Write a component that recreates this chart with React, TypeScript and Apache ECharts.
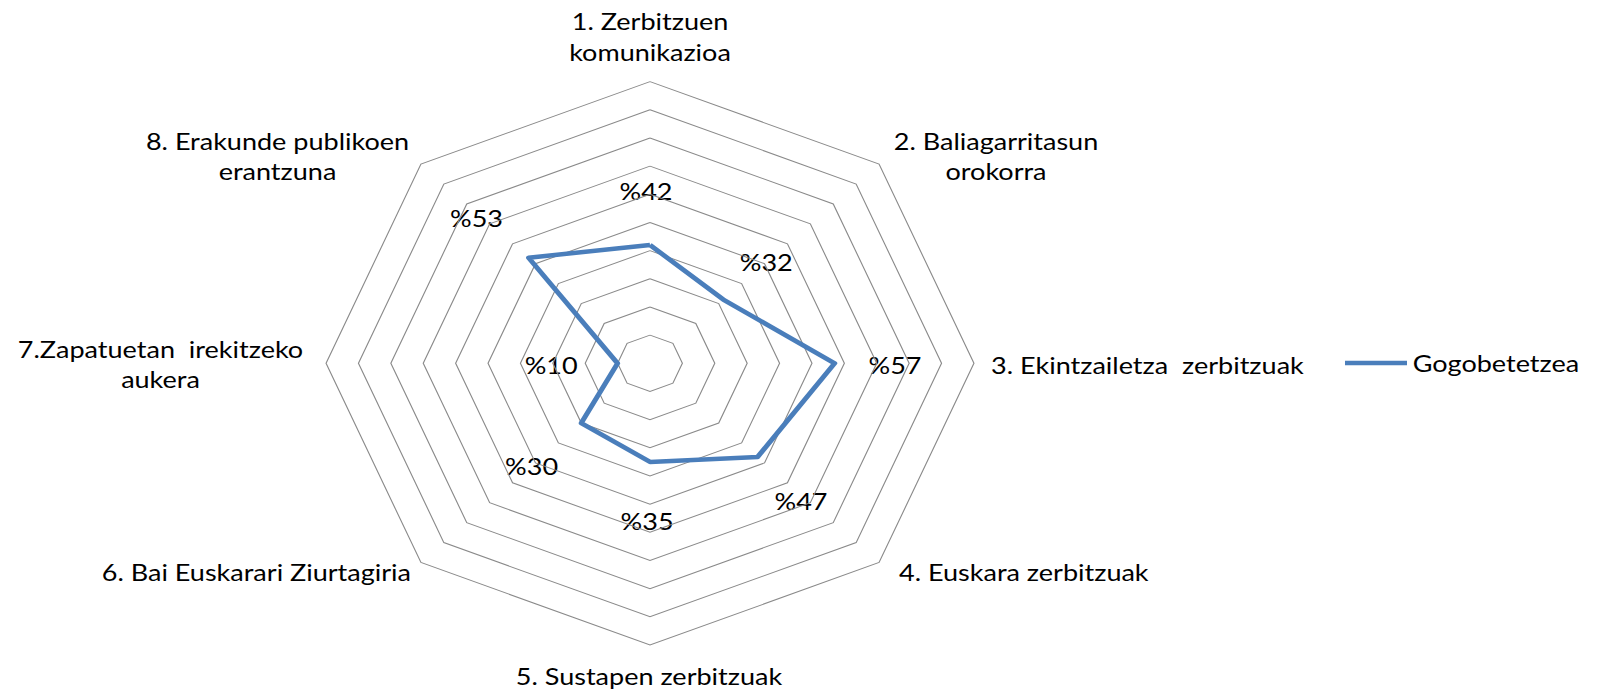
import React, { useEffect, useRef } from "react";
import * as echarts from "echarts";

// ---- data ----
const categories: string[] = [
  "1. Zerbitzuen\nkomunikazioa",
  "2. Baliagarritasun\norokorra",
  "3. Ekintzailetza  zerbitzuak",
  "4. Euskara zerbitzuak",
  "5. Sustapen zerbitzuak",
  "6. Bai Euskarari Ziurtagiria",
  "7.Zapatuetan  irekitzeko\naukera",
  "8. Erakunde publikoen\nerantzuna",
];
const values: number[] = [42, 32, 57, 47, 35, 30, 10, 53];
const seriesName = "Gogobetetzea";
const labelPrefix = "%";
const axisMin = 0;
const axisMax = 100;
const axisSplits = 10;

// ---- layout (full-page px; the chart is drawn narrower and stretched horizontally) ----
const SX = 1.15;
const W = 1602;
const H = 690;
const FONT = "Lato";
const FS = 23.5;
const CENTER = [650, 363.3];
const RADIUS = 281.7;

// category label anchors: [x, y, align]
const catPos: [number, number, string][] = [
  [650, 36, "center"],
  [996, 155.5, "center"],
  [991, 365, "left"],
  [899, 572, "left"],
  [649, 676, "center"],
  [411, 572, "right"],
  [160.5, 363.5, "center"],
  [277.5, 155.5, "center"],
];
// value label centres
const valPos: [number, number][] = [
  [646, 190.6],
  [766.3, 261.7],
  [895, 364.5],
  [801, 500.8],
  [647.1, 520.6],
  [531.6, 465.3],
  [551.2, 364.5],
  [476.5, 218.2],
];

// ECharts radar runs counter-clockwise; the reference runs clockwise from the top
const order = [0, 7, 6, 5, 4, 3, 2, 1];

export default function App() {
  const ref = useRef<HTMLDivElement>(null);

  useEffect(() => {
    if (!ref.current) return;
    const chart = echarts.init(ref.current, undefined, { renderer: "svg" });
    const color = "#4a7ebb";
    const textStyleBase = { fontFamily: FONT, fontSize: FS, fill: "#000" };

    const catTexts = categories.map((c, i) => ({
      type: "text",
      x: catPos[i][0] / SX,
      y: catPos[i][1],
      style: {
        ...textStyleBase,
        text: c,
        align: catPos[i][2],
        verticalAlign: "middle",
        lineHeight: 30.5,
      },
    }));
    const valTexts = values.map((v, i) => ({
      type: "text",
      x: valPos[i][0] / SX,
      y: valPos[i][1],
      style: {
        ...textStyleBase,
        text: labelPrefix + v,
        align: "center",
        verticalAlign: "middle",
      },
    }));

    chart.setOption({
      animation: false,
      backgroundColor: "#ffffff",
      radar: {
        center: [CENTER[0] / SX, CENTER[1]],
        radius: RADIUS,
        startAngle: 90,
        splitNumber: axisSplits,
        shape: "polygon",
        indicator: order.map((i) => ({
          name: categories[i],
          min: axisMin,
          max: axisMax,
        })),
        axisName: { show: false },
        axisLine: { show: false },
        axisTick: { show: false },
        axisLabel: { show: false },
        splitLine: { lineStyle: { color: "#8a8a8a", width: 1 } },
        splitArea: { show: false },
      },
      legend: {
        data: [seriesName],
        left: 1345 / SX,
        top: 363 - 14,
        padding: 0,
        icon: "rect",
        itemWidth: 62 / SX,
        itemHeight: 4.5,
        itemGap: 0,
        selectedMode: false,
        textStyle: {
          fontFamily: FONT,
          fontSize: FS,
          color: "#000",
          lineHeight: 28,
        },
      },
      series: [
        {
          type: "radar",
          name: seriesName,
          symbol: "none",
          lineStyle: { color, width: 4.5 },
          itemStyle: { color },
          data: [{ name: seriesName, value: order.map((i) => values[i]) }],
        },
      ],
      graphic: [...catTexts, ...valTexts],
    });
    return () => chart.dispose();
  }, []);

  return (
    <div
      style={{
        position: "absolute",
        left: 0,
        top: 0,
        width: W,
        height: H,
        overflow: "hidden",
        background: "#fff",
      }}
    >
      <div
        ref={ref}
        style={{
          width: W / SX,
          height: H,
          transform: `scaleX(${SX})`,
          transformOrigin: "0 0",
        }}
      />
    </div>
  );
}
